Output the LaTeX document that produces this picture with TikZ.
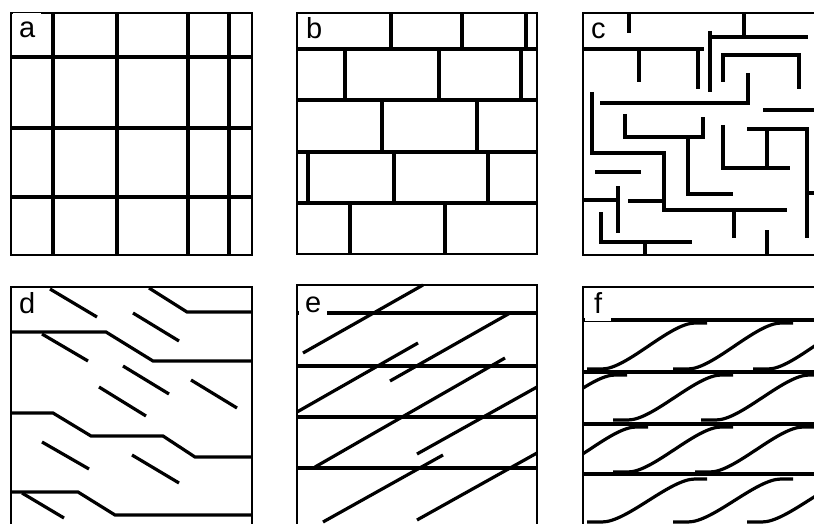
\documentclass[tikz,border=0pt]{standalone}
\usepackage{fontspec}
\setmainfont{Liberation Sans}
\usetikzlibrary{positioning}
\tikzset{
  frame/.style={line width=1.3pt},
  wall/.style={line width=3.2pt},
  tag/.style={fill=white,inner sep=5pt,inner xsep=6pt,text height=20pt,text depth=3pt,
    font=\fontsize{29}{29}\selectfont,anchor=base west},
}

\begin{document}
\begin{tikzpicture}[x=1pt,y=-1pt]
  \useasboundingbox (0,0) rectangle (814,524);
  \clip (0,0) rectangle (814,524);

  % a: square grid
  \draw[frame] (11,13) rectangle (252,255);
  \foreach \x in {53,117,188,229} \draw[wall] (\x,13) -- (\x,255);
  \foreach \y in {57,128,197} \draw[wall] (11,\y) -- (252,\y);
  \node[tag] (labA) at (13,38) {a};

  % b: brick wall
  \draw[frame] (297,13) rectangle (537,254);
  \foreach \y in {49,100,152,203} \draw[wall] (297,\y) -- (537,\y);
  \foreach \x in {324,391,462,526} \draw[wall] (\x,13) -- (\x,49);
  \foreach \x in {345,439,521} \draw[wall] (\x,49) -- (\x,100);
  \foreach \x in {382,477} \draw[wall] (\x,100) -- (\x,152);
  \foreach \x in {308,394,488} \draw[wall] (\x,152) -- (\x,203);
  \foreach \x in {350,445} \draw[wall] (\x,203) -- (\x,254);
  \node[tag] (labB) at (300,39) {b};

  % c: maze
  \draw[frame] (830,13) -- (583,13) -- (583,255) -- (830,255);
  \draw[wall] (629,13) -- (629,33);
  \draw[wall] (744,13) -- (744,37);
  \draw[wall] (710,37) -- (808,37);
  \draw[wall] (710,31) -- (710,92);
  \draw[wall] (583,49) -- (704,49);
  \draw[wall] (639,49) -- (639,82);
  \draw[wall] (698,49) -- (698,89);
  \draw[wall] (723,82) -- (723,55) -- (799,55) -- (799,89);
  \draw[wall] (748,73) -- (748,103) -- (600,103);
  \draw[wall] (763,110) -- (814,110);
  \draw[wall] (592,92) -- (592,153) -- (664,153) -- (664,210) -- (787,210);
  \draw[wall] (625,114) -- (625,137) -- (703,137) -- (703,117);
  \draw[wall] (688,137) -- (688,194) -- (733,194);
  \draw[wall] (723,125) -- (723,168) -- (790,168);
  \draw[wall] (767,129) -- (767,168);
  \draw[wall] (747,129) -- (807,129) -- (807,238);
  \draw[wall] (807,193) -- (814,193);
  \draw[wall] (595,172) -- (641,172);
  \draw[wall] (583,200) -- (618,200);
  \draw[wall] (618,186) -- (618,233);
  \draw[wall] (628,201) -- (664,201);
  \draw[wall] (601,212) -- (601,242) -- (692,242);
  \draw[wall] (645,242) -- (645,255);
  \draw[wall] (734,210) -- (734,238);
  \draw[wall] (767,230) -- (767,255);
  \node[tag] (labC) at (585,39) {c};

  % d: stepped joints
  \draw[frame] (11,540) -- (11,287) -- (252,287) -- (252,540);
  \draw[wall] (50,289) -- (97,317);
  \draw[wall] (149,288) -- (187,312) -- (252,312);
  \draw[wall] (133,313) -- (179,341);
  \draw[wall] (11,332) -- (106,332) -- (153,361) -- (252,361);
  \draw[wall] (42,334) -- (88,361);
  \draw[wall] (123,366) -- (169,394);
  \draw[wall] (191,380) -- (237,408);
  \draw[wall] (99,387) -- (146,416);
  \draw[wall] (11,413) -- (53,413) -- (91,436) -- (163,436) -- (195,457) -- (252,457);
  \draw[wall] (42,442) -- (89,469);
  \draw[wall] (132,455) -- (179,483);
  \draw[wall] (11,492) -- (78,492) -- (115,515) -- (252,515);
  \draw[wall] (22,493) -- (64,518);
  \node[tag] (labD) at (13,313) {d};

  % e: crossing sets
  \draw[frame] (297,540) -- (297,285) -- (537,285) -- (537,540);
  \foreach \y in {313,366,417,468} \draw[wall] (297,\y) -- (537,\y);
  \draw[wall] (303,353) -- (423,285);
  \draw[wall] (297,412) -- (418,343);
  \draw[wall] (390,381) -- (510,313);
  \draw[wall] (315,467) -- (505,358);
  \draw[wall] (417,454) -- (537,387);
  \draw[wall] (323,522) -- (443,455);
  \draw[wall] (417,520) -- (537,453);
  \node[tag] (labE) at (299,312) {e};

  % f: sigmoidal joints
  \draw[frame] (583,540) -- (583,287) -- (830,287);
  \foreach \y in {320,372,424,474} \draw[wall] (583,\y) -- (814,\y);
  \begin{scope}
    \clip (583,287) rectangle (814,524);
    \foreach \x/\yb/\yt in {587/369/323,673/369/323,753/369/323,
                            507/420/375,613/420/375,701/420/375,
                            528/472/427,613/472/427,695/472/427,
                            587/522/479,673/522/479,747/522/479}
      \draw[wall] (\x,\yb) -- ++(15,0) .. controls +(25,0) and +(-25,0) .. (\x+108,\yt) -- (\x+120,\yt);
  \end{scope}
  \node[tag,inner xsep=9pt] (labF) at (585,313) {f};
\end{tikzpicture}
\end{document}
